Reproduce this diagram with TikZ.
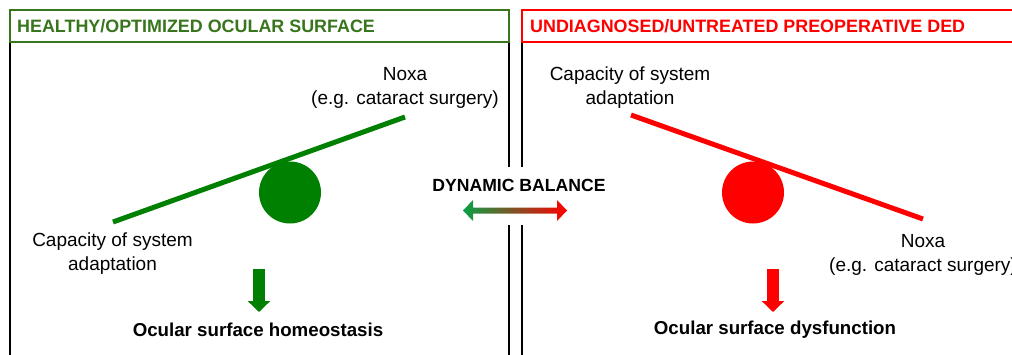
\documentclass[tikz,border=0pt]{standalone}
\usepackage{fontspec}
\setmainfont{Liberation Sans}
\usetikzlibrary{arrows.meta}
\definecolor{tgreen}{RGB}{56,118,29}
\definecolor{sgreen}{RGB}{0,128,0}
\definecolor{sred}{RGB}{255,0,0}
\definecolor{agreen}{RGB}{10,160,70}
\tikzset{
  panel/.style={draw=black, line width=1.3},
  titlebox/.style={line width=1.5},
  titletext/.style={anchor=base west, inner sep=0, font=\bfseries\fontsize{17.9}{20}\selectfont},
  lbl/.style={align=center, inner sep=0, font=\fontsize{19}{24}\selectfont},
  res/.style={inner sep=0, font=\bfseries\fontsize{18.7}{20}\selectfont},
  beam/.style={line width=5},
  pivot/.style={circle, inner sep=0, minimum size=62},
  downarrow/.style={line width=12, -{Triangle[width=22pt,length=11pt]}},
}
\begin{document}
\begin{tikzpicture}[x=1pt,y=-1pt]
\useasboundingbox (0,0) rectangle (1012,354);
\clip (0,0) rectangle (1012,354);
\fill[white] (0,0) rectangle (1012,354);
% left panel
\draw[panel] (10,42) -- (10,360);
\draw[panel] (509,42) -- (509,360);
\draw[titlebox, draw=tgreen] (10,10) rectangle (509,42);
\node[titletext, text=tgreen] (t1) at (17,32) {HEALTHY/OPTIMIZED OCULAR SURFACE};
% right panel
\draw[panel] (522,42) -- (522,360);
\draw[titlebox, draw=sred] (522,10) rectangle (1030,42);
\node[titletext, text=sred] (t2) at (530,32) {UNDIAGNOSED/UNTREATED PREOPERATIVE DED};
% gap behind the central label
\fill[white] (425,167) rectangle (612,225);
% left seesaw
\node[pivot, fill=sgreen] (c1) at (290,192.5) {};
\coordinate (l1a) at (113,222);
\coordinate (l1b) at (405,117);
\draw[beam, sgreen] (l1a) -- (l1b);
\node[lbl] (noxa1) at (405,88) {Noxa\\(e.g. cataract surgery)};
\node[lbl] (cap1) at (112.5,254) {Capacity of system\\adaptation};
\node[res] (h1) at (258,330) {Ocular surface homeostasis};
\coordinate (a1s) at (259,269);
\coordinate (a1e) at (259,312);
\draw[downarrow, sgreen] (a1s) -- (a1e);
% right seesaw
\node[pivot, fill=sred] (c2) at (753,192.5) {};
\coordinate (l2a) at (631,115);
\coordinate (l2b) at (923,219);
\draw[beam, sred] (l2a) -- (l2b);
\node[lbl] (cap2) at (630,88) {Capacity of system\\adaptation};
\node[lbl] (noxa2) at (923,255) {Noxa\\(e.g. cataract surgery)};
\node[res] (h2) at (775,330) {Ocular surface dysfunction};
\coordinate (a2s) at (773,269);
\coordinate (a2e) at (773,312);
\draw[downarrow, sred] (a2s) -- (a2e);
% dynamic balance
\node[res, font=\bfseries\fontsize{17.6}{20}\selectfont] (db) at (519,185) {DYNAMIC BALANCE};
\shade[left color=agreen, right color=sred]
  (463,210.5) -- (473,200) -- (473,207.5) -- (557,207.5) -- (557,200) -- (567,210.5)
  -- (557,221) -- (557,213.5) -- (473,213.5) -- (473,221) -- cycle;
\end{tikzpicture}
\end{document}
